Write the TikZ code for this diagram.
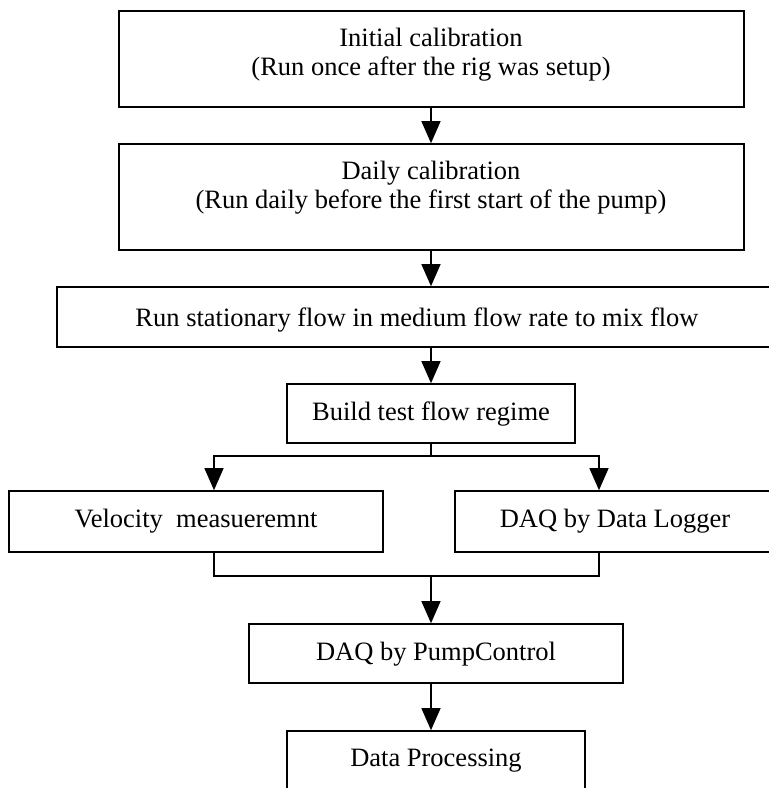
\documentclass[tikz,border=0pt]{standalone}
\usepackage{fontspec}
\setmainfont{Liberation Serif}
\usetikzlibrary{arrows.meta}
\begin{document}
\begin{tikzpicture}[x=1pt,y=-1pt,
  box/.style={draw, line width=1.6pt, inner sep=0pt, rectangle},
  lbl/.style={anchor=base, inner sep=0pt, font=\fontsize{26.5}{29}\selectfont},
  conn/.style={line width=1.2pt},
  arr/.style={conn, -{Triangle[length=22pt,width=19pt]}}]
\useasboundingbox (0,0) rectangle (769,788);
\clip (0,0) rectangle (769,788);
% boxes
\node[box, minimum width=625pt, minimum height=96pt]  (b1) at (431.5,59) {};
\node[box, minimum width=625pt, minimum height=106pt] (b2) at (431.5,197) {};
\node[box, minimum width=720pt, minimum height=60pt]  (b3) at (417,317) {};
\node[box, minimum width=288pt, minimum height=59pt]  (b4) at (431,413.5) {};
\node[box, minimum width=374pt, minimum height=61pt]  (b5) at (196,521.5) {};
\node[box, minimum width=320pt, minimum height=61pt]  (b6) at (615,521.5) {};
\node[box, minimum width=374pt, minimum height=59pt]  (b7) at (436,653.5) {};
\node[box, minimum width=298pt, minimum height=59pt]  (b8) at (436,760.5) {};
% texts
\node[lbl] (t1a) at (431,46) {Initial calibration};
\node[lbl] (t1b) at (431,75) {(Run once after the rig was setup)};
\node[lbl] (t2a) at (431,179) {Daily calibration};
\node[lbl] (t2b) at (431,208) {(Run daily before the first start of the pump)};
\node[lbl] (t3) at (417,326) {Run stationary flow in medium flow rate to mix flow};
\node[lbl] (t4) at (431,420) {Build test flow regime};
\node[lbl] (t5) at (196,527) {Velocity\ \ measueremnt};
\node[lbl] (t6) at (615,527) {DAQ by Data Logger};
\node[lbl] (t7) at (436,660) {DAQ by PumpControl};
\node[lbl] (t8) at (436,766) {Data Processing};
% helper coordinates
\coordinate (ax) at (431,0);
\coordinate (lx) at (214,0);
\coordinate (rx) at (599,0);
\coordinate (sp) at (431,456);
\coordinate (jn) at (431,576);
% connectors
\draw[arr] (b1.south -| ax) -- (b2.north -| ax);
\draw[arr] (b2.south -| ax) -- (b3.north -| ax);
\draw[arr] (b3.south -| ax) -- (b4.north -| ax);
\draw[arr] (b4.south -| ax) |- (sp -| lx) -- (b5.north -| lx);
\draw[arr] (sp) -| (b6.north -| rx);
\draw[conn] (b5.south -| lx) |- (jn) -| (b6.south -| rx);
\draw[arr] (jn) -- (b7.north -| ax);
\draw[arr] (b7.south -| ax) -- (b8.north -| ax);
\end{tikzpicture}
\end{document}
